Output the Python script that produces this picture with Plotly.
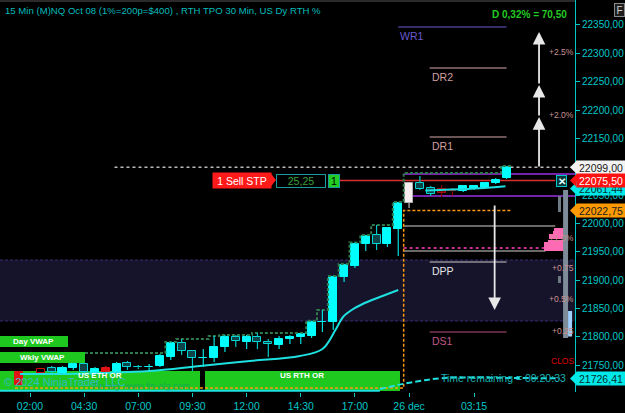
import plotly.graph_objects as go

# ---------------- data ----------------
bar_pos = [-1, 1, 2, 3, 4, 5, 6, 7, 8, 9, 10, 11, 12, 13, 14, 15, 16, 17, 18, 19, 20,
           21, 22, 23, 24, 25, 26, 27, 28, 29, 30, 31, 32, 33, 34,
           35, 36, 37, 38, 39, 40, 41, 42, 43, 44]
opens = [21737.6, 21742.9, 21744.7, 21735.9, 21744.7, 21751.8, 21735.9, 21744.7, 21737.6, 21753.5,
         21746.5, 21746.0, 21748.2, 21764.1, 21788.8, 21774.7, 21762.4, 21762.4, 21781.8, 21799.4,
         21790.6, 21799.4, 21790.6, 21785.3, 21795.9, 21799.4, 21801.2, 21825.9, 21825.9, 21905.3,
         21924.7, 21963.5, 21979.4, 21963.5, 21990.0, 22035.9, 22071.2, 22062.4, 22060.6, 22057.1,
         22057.1, 22060.6, 22062.4, 22071.2, 22080.0]
highs = [21739.0, 21744.7, 21748.2, 21748.2, 21755.3, 21755.3, 21746.5, 21748.2, 21755.3, 21757.1,
         21750.0, 21751.8, 21769.4, 21790.6, 21795.9, 21776.5, 21778.2, 21801.2, 21803.0, 21803.0,
         21803.0, 21806.5, 21795.9, 21801.2, 21803.0, 21806.5, 21828.0, 21847.1, 21907.0, 21928.3,
         21966.0, 21979.4, 21997.1, 21993.5, 22037.6, 22072.9, 22083.5, 22065.9, 22067.6, 22062.4,
         22067.6, 22067.6, 22072.9, 22080.0, 22101.2]
lows = [21713.0, 21734.0, 21734.1, 21732.4, 21741.2, 21734.1, 21732.4, 21732.4, 21734.1, 21741.2,
        21742.9, 21741.2, 21746.5, 21758.8, 21767.6, 21739.4, 21746.5, 21755.3, 21772.9, 21781.8,
        21778.2, 21778.2, 21764.1, 21778.2, 21787.1, 21787.1, 21797.6, 21808.3, 21811.8, 21896.5,
        21921.0, 21951.2, 21953.0, 21958.2, 21942.4, 22027.1, 22058.8, 22048.2, 22046.5, 22048.2,
        22055.3, 22058.8, 22060.6, 22069.4, 22078.2]
closes = [21714.7, 21735.9, 21737.6, 21744.7, 21751.8, 21737.6, 21742.9, 21735.9, 21751.8, 21746.5,
          21746.0, 21746.5, 21765.9, 21788.8, 21774.7, 21762.4, 21762.9, 21781.8, 21799.4, 21792.4,
          21799.4, 21790.6, 21787.1, 21795.9, 21799.4, 21804.7, 21825.9, 21826.5, 21905.3, 21926.5,
          21963.5, 21977.6, 21963.5, 21991.8, 22035.9, 22071.2, 22060.6, 22051.8, 22053.5, 22056.5,
          22065.9, 22065.9, 22071.2, 22076.5, 22099.0]
styles = ["red", "redline", "dark", "up", "up", "dark", "up", "red", "up", "dark",
          "dark", "up", "up", "up", "dark", "dark", "up", "up", "up", "dark",
          "up", "dark", "dark", "up", "up", "up", "up", "up", "up", "up",
          "up", "up", "dark", "up", "up", "white", "dark", "dark", "dkred", "dkred",
          "up", "up", "up", "up", "up"]

tick_pos = [0, 5, 10, 15, 20, 25, 30, 35, 41]
tick_text = ["02:00", "04:30", "07:00", "09:30", "12:00", "14:30", "17:00", "26 dec", "03:15"]
price_ticks = [21750, 21800, 21850, 21900, 21950, 22000, 22050, 22100, 22150, 22200, 22250, 22300, 22350]

# session VWAP lines
vwap1_x = [-0.92, 2.77, 6.46, 11.08, 15.7, 20.3, 24.9, 27.0, 28.2, 28.9, 29.7, 30.9, 32.3, 34.0]
vwap1_y = [21734.1, 21734.1, 21735.9, 21739.4, 21748.2, 21757.1, 21765.9, 21778.2, 21811.8,
           21834.7, 21847.1, 21859.4, 21870.0, 21882.4]
vwap2_x = [36.5, 38.8, 41.5, 43.9]
vwap2_y = [22058.0, 22059.5, 22062.0, 22065.5]
wvwap_x = [-2.77, 32.3]
wvwap_y = [21704.5, 21704.5]
wvwap_proj_x = [32.3, 35.4, 38.3, 45.2, 48.9]
wvwap_proj_y = [21707.7, 21720.0, 21727.1, 21727.0, 21726.41]

# session high (TPO) step line and orange reference level
session_first_bar = [-1, 35]
session_open_high = [21771.0, 22088.8]
orange_x = [-1.39, 34.5, 44.5]
orange_y = [21709.4, 22022.75, 22022.75]

# horizontal levels
last_price = 22099.00
sell_stop = 22075.50
purple_levels = [22087.1, 22048.2]
gray_levels = [21995.3, 21951.2]
pink_level = 21956.5
band_top, band_bottom = 21935.3, 21827.7

pivot_names = ["WR1", "DR2", "DR1", "DPP", "DS1"]
pivot_values = [22346.5, 22274.1, 22152.4, 21931.8, 21808.3]
pivot_start = [34.0, 36.9, 36.9, 36.9, 36.9]
pivot_end = [44.0, 44.0, 44.0, 44.0, 44.0]

pct_labels = ["+2.5%", "+2.0%", "+1.0%", "+0.75", "+0.5%", "+0.25", "CLOS"]
pct_values = [22302.4, 22191.2, 21974.1, 21921.2, 21866.5, 21810.0, 21757.1]

prof_price = [21954, 21959, 21964, 21969, 21974, 21979, 21984, 21989]
prof_vol = [39, 39, 38, 31, 30, 30, 22, 21]

up_arrow_pos = 47.0
up_arrow_levels = [22097.6, 22187.6, 22244.1, 22337.6]
down_arrow_pos = 42.9
down_arrow_levels = [22034.1, 21847.1]

marker_values = [22099.00, 22061.44, 22075.50, 22022.75, 21726.41]
marker_text = ["22099,00", "22061,44", "22075,50", "22022,75", "21726,41"]

# ---------------- styling / geometry ----------------
PLOT_W, PLOT_H = 575, 392
X_RANGE = [-2.77, 50.32]
Y_RANGE = [21702.4, 22394.1]
FONT = "Liberation Sans, Arial, sans-serif"
CYAN = "#00c8c8"

FILL = {"up": "#00ffff", "dark": "#0e4448", "red": "#e01414", "redline": "#000000",
        "dkred": "#7a0000", "white": "#f6eeee"}
EDGE = {"up": "#00ffff", "dark": "#00d8d8", "red": "#e01414", "redline": "#d01010",
        "dkred": "#a01010", "white": "#b0b0b0"}
WICK = {"up": "#00e0e0", "dark": "#00c8c8", "red": "#e01414", "redline": "#d01010",
        "dkred": "#900000", "white": "#c0c0c0"}
MARKER_BG = ["#f2f2f2", "#00e8e8", "#ff1010", "#ff9900", "#00e8e8"]
MARKER_FG = ["#202020", "#003030", "#ffffff", "#202020", "#003030"]


def xp(px):
    return px / PLOT_W


def yp(py):
    return 1 - py / PLOT_H


def pp(price):
    return (price - Y_RANGE[0]) / (Y_RANGE[1] - Y_RANGE[0])


fig = go.Figure()
shapes = []
ann = []

# dark band
shapes.append(dict(type="rect", xref="paper", x0=0, x1=1, yref="y", y0=band_bottom, y1=band_top,
                   fillcolor="#16142a", line=dict(width=0), layer="below"))
for yv in (band_top, band_bottom):
    shapes.append(dict(type="line", xref="paper", x0=0, x1=1, yref="y", y0=yv, y1=yv,
                       line=dict(color="#3c2c72", width=1, dash="3px,2px"), layer="below"))

# OR boxes (below the candles)
shapes.append(dict(type="rect", xref="paper", yref="paper", x0=xp(0), x1=xp(200), y0=yp(391), y1=yp(371),
                   fillcolor="#1ec81e", line=dict(width=0), layer="below"))
shapes.append(dict(type="rect", xref="paper", yref="paper", x0=xp(205), x1=xp(400), y0=yp(391), y1=yp(371),
                   fillcolor="#1ec81e", line=dict(width=0), layer="below"))

# level lines
shapes.append(dict(type="line", xref="x", yref="y", x0=7.8, x1=X_RANGE[1], y0=last_price, y1=last_price,
                   line=dict(color="#bbbbbb", width=1.5, dash="dot"), layer="below"))
shapes.append(dict(type="line", xref="x", yref="y", x0=28.6, x1=48.5, y0=sell_stop, y1=sell_stop,
                   line=dict(color="#d83030", width=1.5), layer="below"))
for yv in purple_levels:
    shapes.append(dict(type="line", xref="x", yref="y", x0=34.5, x1=X_RANGE[1], y0=yv, y1=yv,
                       line=dict(color="#9a30e0", width=1.5), layer="below"))
for yv, x1 in zip(gray_levels, [48.5, 47.6]):
    shapes.append(dict(type="line", xref="x", yref="y", x0=34.5, x1=x1, y0=yv, y1=yv,
                       line=dict(color="#8c8c8c", width=1.5), layer="below"))
shapes.append(dict(type="line", xref="x", yref="y", x0=34.5, x1=48.5, y0=pink_level, y1=pink_level,
                   line=dict(color="#ff40c0", width=1.5, dash="dot"), layer="below"))

pivot_colors = ["#6a5ad0", "#d4a8a8", "#d4a8a8", "#c8c8c8", "#b85080"]
pivot_text_colors = ["#6a5ad0", "#d0a0a0", "#d0a0a0", "#e6e6e6", "#c05888"]
for n, v, x0, x1, lc, tc in zip(pivot_names, pivot_values, pivot_start, pivot_end, pivot_colors, pivot_text_colors):
    shapes.append(dict(type="line", xref="x", yref="y", x0=x0, x1=x1, y0=v, y1=v,
                       line=dict(color=lc, width=1.2), layer="below"))
    ann.append(dict(x=x0, y=v, xref="x", yref="y", text=n, showarrow=False, xanchor="left",
                    yanchor="top", yshift=-1, font=dict(family=FONT, size=10.5, color=tc)))

# session high step line
rh_x, rh_y = [X_RANGE[0]], [session_open_high[0]]
running = session_open_high[0]
for j, h in zip(bar_pos, highs):
    if j == session_first_bar[1]:
        running = session_open_high[1]
        rh_x.append(j - 0.5)
        rh_y.append(running)
    running = max(running, h)
    rh_x.append(j - 0.5)
    rh_y.append(running)
rh_x.append(bar_pos[-1] + 0.5)
rh_y.append(running)
fig.add_trace(go.Scatter(x=rh_x, y=rh_y, mode="lines", line=dict(color="#2f7a4c", width=2, dash="3px,2px", shape="hv"),
                         hoverinfo="skip", showlegend=False))

# orange step line
fig.add_trace(go.Scatter(x=orange_x, y=orange_y, mode="lines",
                         line=dict(color="#ff9a10", width=1.5, dash="3px,2px", shape="hv"),
                         hoverinfo="skip", showlegend=False))

# wicks
groups = {}
for j, o, h, l, c, s in zip(bar_pos, opens, highs, lows, closes, styles):
    xs, ys = groups.setdefault(WICK[s], ([], []))
    top, bot = max(o, c), min(o, c)
    if h > top:
        xs += [j, j, None]
        ys += [top, h, None]
    if l < bot:
        xs += [j, j, None]
        ys += [l, bot, None]
for col, (xs, ys) in groups.items():
    fig.add_trace(go.Scatter(x=xs, y=ys, mode="lines", line=dict(color=col, width=1.2),
                             hoverinfo="skip", showlegend=False))

# candle bodies
fig.add_trace(go.Bar(x=bar_pos, y=[max(abs(c - o), 0.8) for o, c in zip(opens, closes)],
                     base=[min(o, c) for o, c in zip(opens, closes)], width=0.74,
                     marker=dict(color=[FILL[s] for s in styles],
                                 line=dict(color=[EDGE[s] for s in styles], width=1)),
                     hoverinfo="skip", showlegend=False))

# volume profile
PROF_RIGHT, PROF_SCALE = 49.4, 0.05
fig.add_trace(go.Bar(orientation="h", y=prof_price, x=[v * PROF_SCALE for v in prof_vol],
                     base=[PROF_RIGHT - v * PROF_SCALE for v in prof_vol], width=4.6,
                     marker=dict(color="#ff6ab4", line=dict(width=0)), hoverinfo="skip", showlegend=False))

# VWAP lines
fig.add_trace(go.Scatter(x=vwap1_x, y=vwap1_y, mode="lines", line=dict(color="#1ee0e0", width=2, shape="spline"),
                         hoverinfo="skip", showlegend=False))
fig.add_trace(go.Scatter(x=vwap2_x, y=vwap2_y, mode="lines", line=dict(color="#1ee0e0", width=2, shape="spline"),
                         hoverinfo="skip", showlegend=False))
fig.add_trace(go.Scatter(x=wvwap_x, y=wvwap_y, mode="lines", line=dict(color="#1ee0e0", width=2),
                         hoverinfo="skip", showlegend=False))
fig.add_trace(go.Scatter(x=wvwap_proj_x, y=wvwap_proj_y, mode="lines",
                         line=dict(color="#1ee0e0", width=2, dash="6px,3px", shape="spline"),
                         hoverinfo="skip", showlegend=False))

# right-side gray range bars
shapes.append(dict(type="rect", xref="x", yref="y", x0=49.22, x1=49.68, y0=21797.6, y1=22058.8,
                   fillcolor="#7d8c98", line=dict(width=0), layer="above"))
shapes.append(dict(type="rect", xref="x", yref="y", x0=48.75, x1=49.03, y0=22020.0, y1=22048.2,
                   fillcolor="#6e7a84", line=dict(width=0), layer="above"))
shapes.append(dict(type="rect", xref="x", yref="y", x0=48.75, x1=49.03, y0=21894.7, y1=21907.0,
                   fillcolor="#6e7a84", line=dict(width=0), layer="above"))
shapes.append(dict(type="rect", xref="x", yref="y", x0=49.68, x1=50.05, y0=21800.3, y1=21845.3,
                   fillcolor="#9fd0ff", line=dict(width=0), layer="above"))

# arrows
for a, b in zip(up_arrow_levels[:-1], up_arrow_levels[1:]):
    ann.append(dict(x=up_arrow_pos, y=b, ax=up_arrow_pos, ay=a, xref="x", yref="y", axref="x", ayref="y",
                    text="", showarrow=True, arrowhead=2, arrowsize=1.4, arrowwidth=1.8, arrowcolor="#e8e8e8"))
ann.append(dict(x=down_arrow_pos, y=down_arrow_levels[1], ax=down_arrow_pos, ay=down_arrow_levels[0],
                xref="x", yref="y", axref="x", ayref="y", text="", showarrow=True, arrowhead=2,
                arrowsize=1.4, arrowwidth=1.8, arrowcolor="#e8e8e8"))

# percentage labels
for t, v in zip(pct_labels, pct_values):
    ann.append(dict(x=xp(576), y=v, xref="paper", yref="y", text=t, showarrow=False, xanchor="right",
                    font=dict(family=FONT, size=8.5, color="#e00000" if t == "CLOS" else "#c89090")))

# order line widgets
shapes.append(dict(type="path", xref="paper", yref="paper",
                   path="M %f,%f L %f,%f L %f,%f Z" % (xp(270), yp(172.5), xp(276), yp(180), xp(270), yp(187.5)),
                   fillcolor="#ff1a1a", line=dict(width=0), layer="above"))
ann.append(dict(x=xp(242), y=sell_stop, xref="paper", yref="y", text="1 Sell STP", showarrow=False,
                xanchor="center", bgcolor="#ff1a1a", width=56, height=13, borderpad=1,
                font=dict(family=FONT, size=10.5, color="#ffffff")))
ann.append(dict(x=xp(301), y=sell_stop, xref="paper", yref="y", text="25,25", showarrow=False,
                xanchor="center", bgcolor="#000000", bordercolor="#1a9a9a", borderwidth=1, width=48, height=12,
                borderpad=0, font=dict(family=FONT, size=10.5, color="#3aa03a")))
ann.append(dict(x=xp(333.5), y=sell_stop, xref="paper", yref="y", text="1", showarrow=False,
                xanchor="center", bgcolor="#22cc22", bordercolor="#1a9a9a", borderwidth=1, width=10, height=12,
                borderpad=0, font=dict(family=FONT, size=10.5, color="#000000")))
ann.append(dict(x=xp(561), y=sell_stop, xref="paper", yref="y", text="<b>✕</b>", showarrow=False,
                xanchor="center", bgcolor="#0a3a3a", bordercolor="#00c8c8", borderwidth=1, width=9, height=10,
                borderpad=0, font=dict(family=FONT, size=10, color="#e0ffff")))

# price markers on the axis
for v, t, bg, fg in zip(marker_values, marker_text, MARKER_BG, MARKER_FG):
    yc = pp(v)
    hh = 7 / PLOT_H
    shapes.append(dict(type="path", xref="paper", yref="paper",
                       path="M %f,%f L %f,%f L %f,%f Z" % (xp(570), yc, xp(577), yc + hh, xp(577), yc - hh),
                       fillcolor=bg, line=dict(width=0), layer="above"))
    ann.append(dict(x=xp(601), y=v, xref="paper", yref="y", text=t, showarrow=False, xanchor="center",
                    bgcolor=bg, width=48, height=13, borderpad=0, font=dict(family=FONT, size=10.5, color=fg)))

# label boxes bottom-left
shapes.append(dict(type="rect", xref="paper", yref="paper", x0=xp(0), x1=xp(68), y0=yp(347), y1=yp(336),
                   fillcolor="#1ec81e", line=dict(width=0), layer="above"))
shapes.append(dict(type="rect", xref="paper", yref="paper", x0=xp(0), x1=xp(85), y0=yp(363), y1=yp(352),
                   fillcolor="#1ec81e", line=dict(width=0), layer="above"))
for t, x, y in [("Day VWAP", 33, 341.5), ("Wkly VWAP", 42, 357.5), ("US ETH OR", 100, 375.5), ("US RTH OR", 302, 375.5)]:
    ann.append(dict(x=xp(x), y=yp(y), xref="paper", yref="paper", text="<b>%s</b>" % t, showarrow=False,
                    xanchor="center", yanchor="middle", font=dict(family=FONT, size=8, color="#ffffff")))
ann.append(dict(x=xp(2), y=yp(382), xref="paper", yref="paper", text="© 2024 NinjaTrader, LLC",
                showarrow=False, xanchor="left", yanchor="middle",
                font=dict(family=FONT, size=11, color="#34bcc4")))
ann.append(dict(x=xp(90), y=yp(386), xref="paper", yref="paper", text="Fin-alg  www.fin-alg.com",
                showarrow=False, xanchor="left", yanchor="middle",
                font=dict(family=FONT, size=9, color="rgba(0,130,150,0.45)")))

# texts
ann.append(dict(x=xp(3), y=yp(11), xref="paper", yref="paper", xanchor="left", yanchor="middle",
                text="15 Min (M)NQ Oct 08 (1%=200p=$400) , RTH TPO 30 Min, US Dy RTH %",
                showarrow=False, font=dict(family=FONT, size=9.6, color="#00bcbc")))
ann.append(dict(x=xp(529), y=yp(15), xref="paper", yref="paper", text="<b>D 0,32% = 70,50</b>",
                xanchor="center", yanchor="middle", showarrow=False,
                font=dict(family=FONT, size=10, color="#22cc22")))
ann.append(dict(x=xp(619), y=yp(10), xref="paper", yref="paper", text="F", showarrow=False,
                xanchor="center", yanchor="middle",
                bgcolor="#1e1e1e", bordercolor="#8a8a8a", borderwidth=1, width=9, height=12, borderpad=0,
                font=dict(family=FONT, size=10, color="#d0d0d0")))
ann.append(dict(x=xp(503), y=yp(378), xref="paper", yref="paper", text="Time remaining = 00:20:33",
                xanchor="center", yanchor="middle", showarrow=False,
                font=dict(family=FONT, size=10.5, color="#18b4b4")))

shapes.append(dict(type="line", xref="paper", yref="paper", x0=0, x1=1, y0=yp(1), y1=yp(1),
                   line=dict(color="#555555", width=1), layer="above"))

fig.update_layout(
    width=625, height=413,
    margin=dict(l=0, r=50, t=0, b=21),
    paper_bgcolor="#000000", plot_bgcolor="#000000",
    barmode="overlay", bargap=0, showlegend=False,
    shapes=shapes, annotations=ann,
    xaxis=dict(range=X_RANGE, tickvals=tick_pos, ticktext=tick_text, ticks="outside", ticklen=4,
               tickcolor=CYAN, showgrid=False, zeroline=False, showline=False,
               tickfont=dict(family=FONT, size=10.5, color=CYAN), fixedrange=True),
    yaxis=dict(range=Y_RANGE, side="right", tickvals=price_ticks,
               ticktext=["%d,00" % v for v in price_ticks], ticks="outside", ticklen=4, tickcolor=CYAN,
               showgrid=False, zeroline=False, showline=True, linecolor=CYAN, linewidth=1,
               tickfont=dict(family=FONT, size=10, color=CYAN), fixedrange=True),
)

fig.write_html("out.html")
